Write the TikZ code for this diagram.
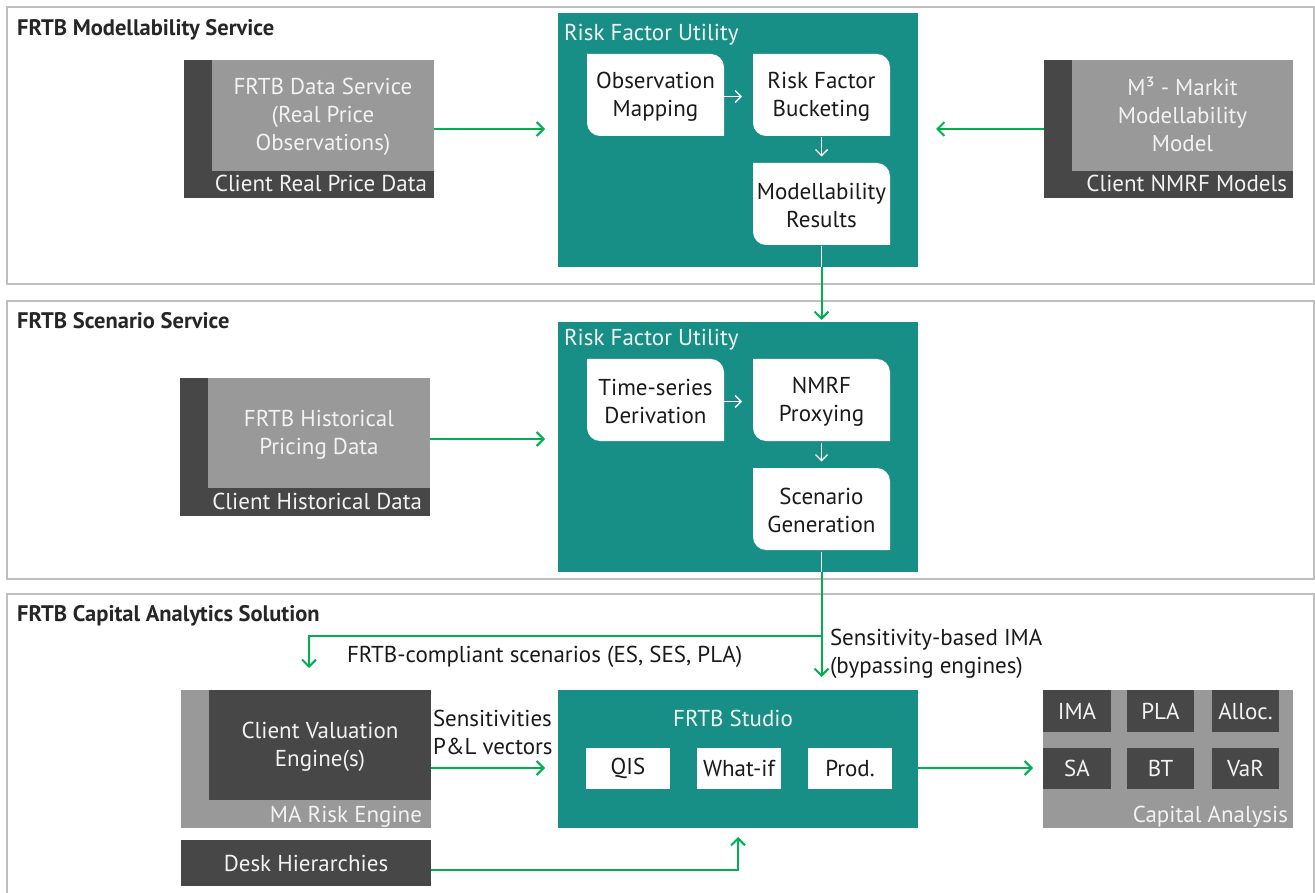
\documentclass[tikz,border=0pt]{standalone}
\usepackage{fontspec}
\setmainfont{PT Sans}
\usetikzlibrary{arrows.meta}
\definecolor{teal1}{RGB}{24,143,134}
\definecolor{dgray}{RGB}{71,71,71}
\definecolor{lgray}{RGB}{153,153,153}
\definecolor{grn}{RGB}{0,176,80}
\definecolor{secline}{RGB}{191,191,191}
\definecolor{ttl}{RGB}{38,38,38}
\definecolor{wtxt}{RGB}{242,242,242}
\definecolor{btx}{RGB}{26,26,26}
\newcommand{\rbox}[6]{%
 \fill[white] (#2,#3) -- ({#4-13},#3) .. controls ({#4-6},#3) and (#4,{#3+6}) .. (#4,{#3+13}) -- (#4,#5) -- ({#2+13},#5) .. controls ({#2+6},#5) and (#2,{#5-6}) .. (#2,{#5-13}) -- cycle;
 \node[btxt, minimum width={#4-#2}, minimum height={#5-#3}] (#1) at ({(#2+#4)/2},{(#3+#5)/2+1.5}) {#6};}
\tikzset{
 sec/.style={draw=secline, line width=1.5pt, anchor=north west, inner sep=0pt, outer sep=0pt},
 area/.style={anchor=north west, inner sep=0pt, outer sep=0pt},
 txt/.style={align=center, inner sep=0pt, outer sep=0pt},
 wtx/.style={txt, text=wtxt},
 btxt/.style={txt, text=btx},
 sectitle/.style={font=\fontsize{22.5}{26}\selectfont\bfseries, text=ttl, anchor=base west, inner sep=0pt},
 garrow/.style={draw=grn, line width=2pt, -{Straight Barb[length=7pt,width=14pt]}},
 gline/.style={draw=grn, line width=2pt},
 wline/.style={draw=white, line width=1.4pt},
 warrow/.style={wline, -{Straight Barb[length=6pt,width=12pt]}},
}
\begin{document}
\begin{tikzpicture}[x=1pt,y=-1pt,font=\fontsize{23}{28}\selectfont]
\useasboundingbox (0,0) rectangle (1315,893);
% sections
\node[sec, minimum width=1307, minimum height=277] (s1) at (7,7) {};
\node[sec, minimum width=1307, minimum height=278] (s2) at (7,301) {};
\node[sec, minimum width=1307, minimum height=320] (s3) at (7,594) {};
\node[sectitle] (t1) at (17,36) {FRTB Modellability Service};
\node[sectitle] (t2) at (17,329) {FRTB Scenario Service};
\node[sectitle] (t3) at (17,621) {FRTB Capital Analytics Solution};

% ---------- section 1
\node[area, fill=dgray, minimum width=250, minimum height=138] (crp) at (184,60) {};
\node[area, fill=lgray, minimum width=222, minimum height=111] (fds) at (212,60) {};
\node[wtx] (fdst) at ([yshift=-1.5pt]fds.center) {FRTB Data Service\\(Real Price\\Observations)};
\node[wtx, anchor=base east] (crpl) at (427,192) {Client Real Price Data};

\node[area, fill=dgray, minimum width=249, minimum height=138] (nmrf) at (1044,60) {};
\node[area, fill=lgray, minimum width=221, minimum height=111] (m3) at (1072,60) {};
\node[wtx] (m3t) at ([yshift=1pt]m3.center) {M³ - Markit\\Modellability\\Model};
\node[wtx, anchor=base east] (nmrfl) at (1287,192) {Client NMRF Models};

\node[area, fill=teal1, minimum width=360, minimum height=254] (rfu1) at (558,13) {};
\node[wtx, anchor=base west] (rfu1t) at (564,41) {Risk Factor Utility};
\rbox{om}{587}{54}{724}{136}{Observation\\Mapping}
\rbox{rfb}{753}{54}{890}{136}{Risk Factor\\Bucketing}
\rbox{mr}{753}{163}{890}{245}{Modellability\\Results}
\draw[warrow, shorten >=11pt] (om.east) -- (rfb.west);
\draw[warrow, shorten >=8pt] (rfb.south) -- (mr.north);
\draw[wline] (mr.south) -- (mr.south |- rfu1.south);

\draw[garrow, shorten >=13pt] (crp.east) -- (crp.east -| rfu1.west);
\draw[garrow, shorten >=18pt] (nmrf.west) -- (nmrf.west -| rfu1.east);

% ---------- section 2
\node[area, fill=dgray, minimum width=250, minimum height=138] (chd) at (180,378) {};
\node[area, fill=lgray, minimum width=222, minimum height=110] (hpd) at (208,378) {};
\node[wtx] (hpdt) at ([yshift=-1.5pt]hpd.center) {FRTB Historical\\Pricing Data};
\node[wtx, anchor=base east] (chdl) at (422,509) {Client Historical Data};

\node[area, fill=teal1, minimum width=360, minimum height=250] (rfu2) at (558,322) {};
\node[wtx, anchor=base west] (rfu2t) at (564,346) {Risk Factor Utility};
\rbox{tsd}{587}{359}{724}{441}{Time-series\\Derivation}
\rbox{np}{753}{359}{890}{441}{NMRF\\Proxying}
\rbox{sg}{753}{468}{890}{550}{Scenario\\Generation}
\draw[warrow, shorten >=11pt] (tsd.east) -- (np.west);
\draw[warrow, shorten >=8pt] (np.south) -- (sg.north);
\draw[wline] (sg.south) -- (sg.south |- rfu2.south);

\draw[garrow, shorten >=2pt] (mr.south |- rfu1.south) -- (mr.south |- rfu2.north);
\draw[garrow, shorten >=13pt] ([yshift=8pt]chd.east) -- ([yshift=8pt]chd.east -| rfu2.west);

% ---------- section 3
\node[area, fill=lgray, minimum width=250, minimum height=138] (mare) at (181,690) {};
\node[area, fill=dgray, minimum width=222, minimum height=110] (cve) at (209,690) {};
\node[wtx] (cvet) at ([yshift=-1.5pt]cve.center) {Client Valuation\\Engine(s)};
\node[wtx, anchor=base east] (marel) at (422,822) {MA Risk Engine};
\node[area, fill=dgray, minimum width=250, minimum height=46, wtx] (desk) at (181,840) {Desk Hierarchies};

\node[area, fill=teal1, minimum width=360, minimum height=138] (studio) at (558,690) {};
\node[wtx] (studiot) at (733,718) {FRTB Studio};
\node[area, fill=white, minimum width=84, minimum height=41, btxt] (qis) at (586,748) {QIS};
\node[area, fill=white, minimum width=84, minimum height=41, btxt] (wif) at (697,748) {What-if};
\node[area, fill=white, minimum width=84, minimum height=41, btxt] (prod) at (808,748) {Prod.};

\node[area, fill=lgray, minimum width=250, minimum height=138] (cap) at (1043,690) {};
\node[area, fill=dgray, minimum width=68, minimum height=42, wtx] (ima) at (1043,690) {IMA};
\node[area, fill=dgray, minimum width=67, minimum height=42, wtx] (pla) at (1127,690) {PLA};
\node[area, fill=dgray, minimum width=67, minimum height=42, wtx] (alloc) at (1212,690) {Alloc.};
\node[area, fill=dgray, minimum width=68, minimum height=41, wtx] (sa) at (1043,748) {SA};
\node[area, fill=dgray, minimum width=67, minimum height=41, wtx] (bt) at (1127,748) {BT};
\node[area, fill=dgray, minimum width=67, minimum height=41, wtx] (var) at (1212,748) {VaR};
\node[wtx, anchor=base east] (capl) at (1288,822) {Capital Analysis};

\node[btxt, anchor=west, align=left] (sens) at (433,732) {Sensitivities\\P\&L vectors};
\node[btxt, anchor=west] (fcs) at (347,657) {FRTB-compliant scenarios (ES, SES, PLA)};
\node[btxt, anchor=west, align=left] (sbi) at (830,654) {Sensitivity-based IMA\\(bypassing engines)};

\coordinate (br) at (821.5,636);
\coordinate (scTip) at (309,668);
\draw[garrow, shorten >=13pt] (sg.south |- rfu2.south) -- (sg.south |- studio.north);
\draw[garrow] (br) -| (scTip);
\draw[garrow, shorten >=13pt] ([yshift=-9pt]mare.east) -- ([yshift=-9pt]mare.east -| studio.west);
\draw[garrow, shorten >=9pt] ([yshift=-7pt]desk.east) -| (studio.south);
\draw[garrow, shorten >=10pt] ([yshift=-9pt]studio.east) -- ([yshift=-9pt]studio.east -| cap.west);
\end{tikzpicture}
\end{document}
